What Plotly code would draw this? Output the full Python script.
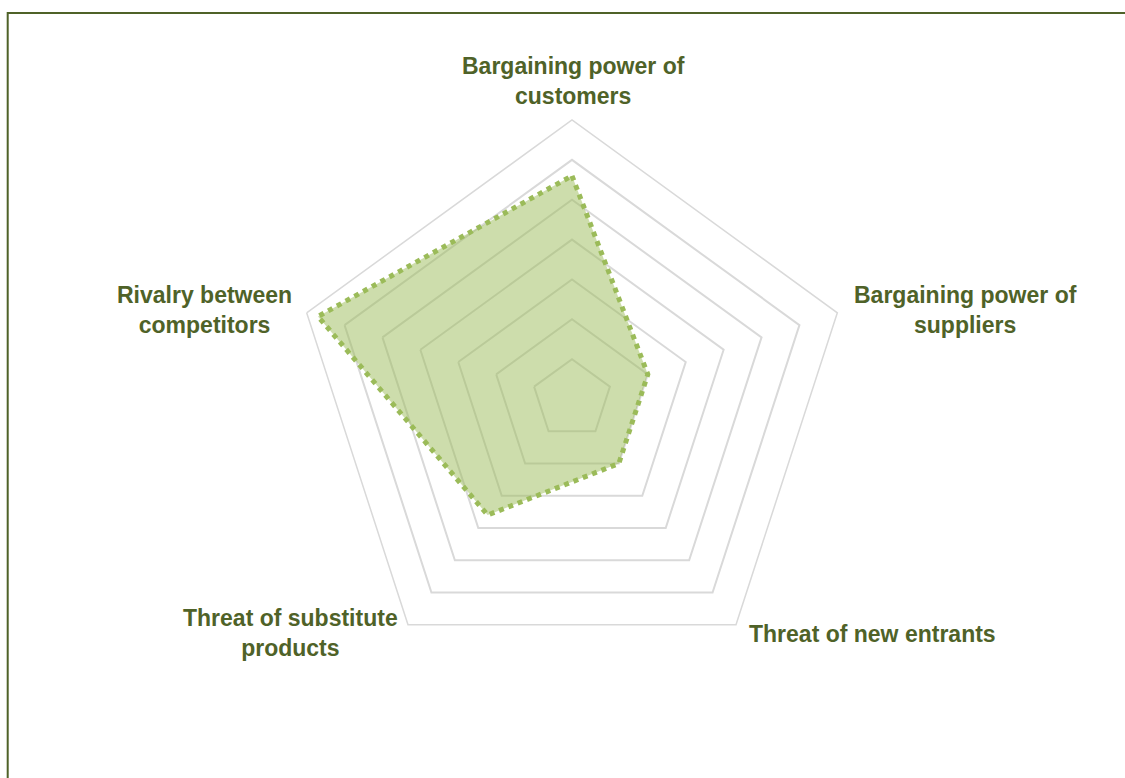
import plotly.graph_objects as go

categories = ["Bargaining power of customers", "Bargaining power of suppliers",
              "Threat of new entrants", "Threat of substitute products",
              "Rivalry between competitors"]
label_texts = ["Bargaining power of<br>customers", "Bargaining power of<br>suppliers",
               "Threat of new entrants", "Threat of substitute<br>products",
               "Rivalry between<br>competitors"]
values = [5.6, 2.0, 2.0, 3.6, 6.7]

W, H = 1125, 778
cx, cy, R = 572, 399, 279

# label centre positions (pixels)
label_pos = [(573, 81), (965, 310), (872.5, 634), (290, 633), (204.5, 310)]

fig = go.Figure()
fig.add_trace(go.Scatterpolar(
    r=values + values[:1],
    theta=categories + categories[:1],
    mode="lines",
    fill="toself",
    fillcolor="rgba(155,187,89,0.5)",
    line=dict(color="#9BBB59", width=5, dash="dot"),
    hoverinfo="skip",
    showlegend=False,
))

annotations = []
for txt, (px, py) in zip(label_texts, label_pos):
    annotations.append(dict(
        text=txt, x=px / W, y=1 - py / H, xref="paper", yref="paper",
        xanchor="center", yanchor="middle", align="center", showarrow=False,
        font=dict(family="Liberation Sans, Arial, sans-serif", size=23,
                  color="#4F6228", weight="bold"),
    ))

fig.update_layout(
    width=W, height=H,
    margin=dict(l=0, r=0, t=0, b=0),
    paper_bgcolor="white",
    plot_bgcolor="white",
    polar=dict(
        domain=dict(x=[(cx - R) / W, (cx + R) / W], y=[1 - (cy + R) / H, 1 - (cy - R) / H]),
        bgcolor="white",
        gridshape="linear",
        radialaxis=dict(range=[0, 7], dtick=1, showticklabels=False, ticks="",
                        showline=False, gridcolor="#D9D9D9", gridwidth=1.5),
        angularaxis=dict(rotation=90, direction="clockwise", showgrid=False,
                         showticklabels=False, ticks="", showline=True,
                         linecolor="#D9D9D9", linewidth=1.5,
                         categoryorder="array", categoryarray=categories),
    ),
    annotations=annotations,
    shapes=[dict(type="rect", xref="paper", yref="paper",
                 x0=7.7 / W, x1=1.02, y0=-0.02, y1=1 - 13 / H,
                 line=dict(color="#4F6228", width=2), fillcolor="rgba(0,0,0,0)")],
    hovermode=False,
)

fig.write_html("out.html", config={"displayModeBar": False},
               post_script="document.body.style.margin='0';")
